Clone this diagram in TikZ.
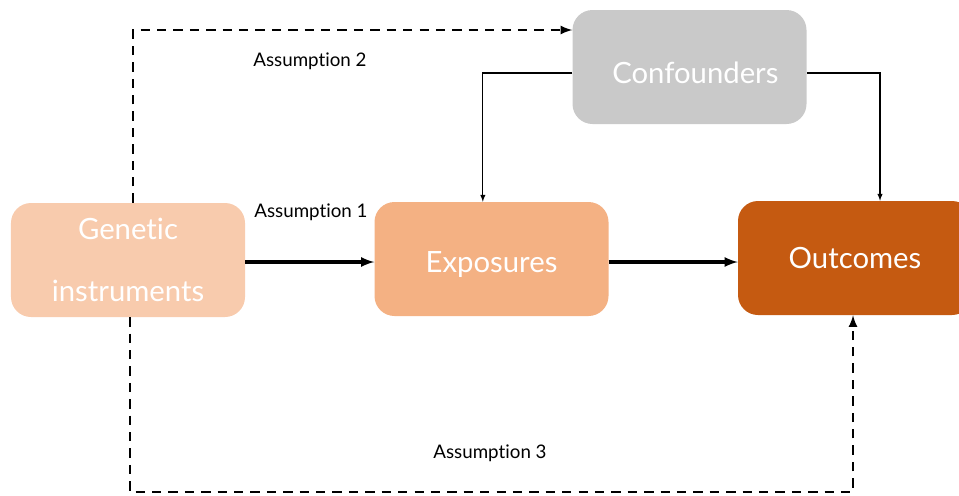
\documentclass[tikz,border=0pt]{standalone}
\usepackage{fontspec}
\setmainfont{Lato}[Ligatures=NoCommon]
\usepackage{tikz}
\usetikzlibrary{calc}

\definecolor{genetic}{HTML}{F8CBAD}
\definecolor{expo}{HTML}{F4B183}
\definecolor{outc}{HTML}{C55A11}
\definecolor{conf}{HTML}{C9C9C9}

\begin{document}
\begin{tikzpicture}[x=0.03cm, y=-0.03cm,
	main/.style = {rounded corners=0.6cm, minimum width=7.02cm, minimum height=3.42cm, text=white, font=\fontsize{25}{53}\selectfont, align=center},
	note/.style = {font=\fontsize{16}{18}\selectfont},
	thin/.style = {line width=1pt, -latex},
	strong/.style = {line width=2.8pt, -latex},
	assume/.style = {line width=2.4pt, dash pattern=on 8pt off 6pt, -latex}]
		\useasboundingbox (0,0) rectangle (959,495);
		\node[main, fill=genetic] (gen) at (128,260) {Genetic\\instruments};
		\node[main, fill=expo] (expo) at (491.5,259) {\smash{\raisebox{-0.4cm}{Exposures}}};
		\node[main, fill=outc] (outc) at (855,258) {Outcomes};
		\node[main, fill=conf] (conf) at (689.5,67) {\hspace*{0.35cm}\smash{\raisebox{-0.49cm}{Confounders}}};
		\coordinate (top) at (0,30);
		\coordinate (low) at (0,492);
		\coordinate (cy) at (0,73);
		\draw[strong] (gen.east |- 0,262) -- (expo.west |- 0,262);
		\draw[strong] (expo.east |- 0,262) -- (outc.west |- 0,262);
		\draw[thin] (conf.west |- cy) -| ([xshift=-0.26cm]expo.north);
		\draw[thin] (conf.east |- cy) -| ([xshift=0.75cm]outc.north);
		\draw[assume] ([xshift=0.15cm]gen.north) -- ([xshift=0.15cm]gen.north |- top) -- (conf.west |- top);
		\draw[assume] ([xshift=0.06cm]gen.south) -- ([xshift=0.06cm]gen.south |- low) -| ([xshift=-0.06cm]outc.south);
		\node[note] (a1) at (311,212) {Assumption 1};
		\node[note] (a2) at (310,61) {Assumption 2};
		\node[note] (a3) at (490,453) {Assumption 3};
	\end{tikzpicture}
\end{document}
